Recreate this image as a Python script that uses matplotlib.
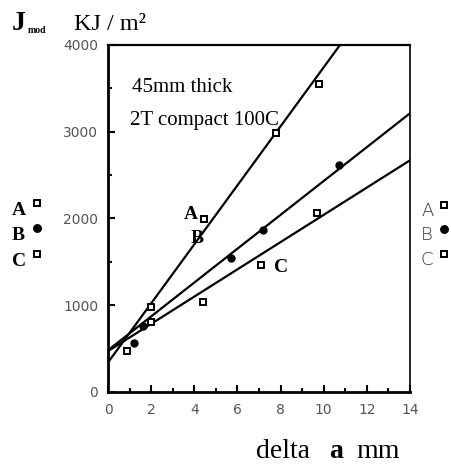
import matplotlib
matplotlib.use("Agg")
import matplotlib.pyplot as plt
import numpy as np

# data
a_x = [0.9, 2.0, 4.45, 7.8, 9.8]
a_y = [470, 980, 1995, 2985, 3550]
b_x = [1.2, 1.6, 5.7, 7.2, 10.7]
b_y = [565, 760, 1545, 1870, 2620]
c_x = [2.0, 4.4, 7.1, 9.7]
c_y = [810, 1040, 1460, 2060]

# fitted lines: intercept, slope
line_names = ["A", "B", "C"]
line_b0 = [340, 480, 470]
line_b1 = [340, 195, 157]

serif = "Liberation Serif"

fig = plt.figure(figsize=(4.52, 4.66), dpi=100)
ax = fig.add_axes([0.239, 0.159, 0.668, 0.745])

xs = np.array([0, 14])
for b0, b1 in zip(line_b0, line_b1):
    ax.plot(xs, b0 + b1 * xs, color="black", lw=1.6, zorder=2)

ax.plot(a_x, a_y, "s", ms=5, mfc="white", mec="black", mew=1.4, zorder=3)
ax.plot(b_x, b_y, "o", ms=5, color="black", zorder=3)
ax.plot(c_x, c_y, "s", ms=5, mfc="white", mec="black", mew=1.4, zorder=3)

ax.set_xlim(0, 14)
ax.set_ylim(0, 4000)
ax.set_xticks(range(0, 15, 2))
ax.set_xticks(range(0, 15, 1), minor=True)
ax.set_yticks(range(0, 4001, 1000))
ax.set_yticks(range(0, 4001, 500), minor=True)
ax.tick_params(which="both", direction="in", width=1.5, colors="black")
ax.tick_params(which="major", length=5)
ax.tick_params(which="minor", length=3)
ax.tick_params(axis="x", pad=8)
ax.tick_params(axis="y", pad=7)
for lab in ax.get_xticklabels() + ax.get_yticklabels():
    lab.set_fontfamily("DejaVu Sans")
    lab.set_fontsize(10)
    lab.set_color("#555555")

ax.spines["left"].set_linewidth(2)
ax.spines["bottom"].set_linewidth(2)
ax.spines["top"].set_linewidth(1.6)
ax.spines["right"].set_linewidth(1.2)

ax.text(1.1, 3450, "45mm thick", family=serif, fontsize=15)
ax.text(1.0, 3080, "2T compact 100C", family=serif, fontsize=15)
ax.text(3.5, 1990, "A", family=serif, fontsize=14, fontweight="bold")
ax.text(3.85, 1720, "B", family=serif, fontsize=14, fontweight="bold")
ax.text(7.7, 1380, "C", family=serif, fontsize=14, fontweight="bold")

# title / axis labels in figure coords
fig.text(12 / 452, 1 - 30 / 466, "J", family=serif, fontsize=20, fontweight="bold")
fig.text(28 / 452, 1 - 33 / 466, "mod", family=serif, fontsize=7, fontweight="bold")
fig.text(74 / 452, 1 - 30 / 466, "KJ / m²", family=serif, fontsize=17.5)
fig.text(256 / 452, 1 - 458 / 466, "delta", family=serif, fontsize=20)
fig.text(329 / 452, 1 - 458 / 466, "a", family=serif, fontsize=20, fontweight="bold")
fig.text(356 / 452, 1 - 458 / 466, "mm", family=serif, fontsize=20)

# side keys
left_y = [208, 233, 259]
right_y = [209, 233, 258]
mk = ["s", "o", "s"]
for name, ly, ry, m in zip(line_names, left_y, right_y, mk):
    fig.text(12 / 452, 1 - (ly + 7) / 466, name, family=serif, fontsize=14, fontweight="bold")
    fig.text(421 / 452, 1 - (ry + 7) / 466, name, family="DejaVu Sans", fontsize=13,
             fontweight="light", color="#333333")
    face = "black" if m == "o" else "white"
    fig.lines.append(plt.Line2D([37 / 452], [1 - (ly - 5) / 466], marker=m, ms=5,
                                mfc=face, mec="black", mew=1.4, transform=fig.transFigure))
    fig.lines.append(plt.Line2D([444 / 452], [1 - (ry - 4) / 466], marker=m, ms=5,
                                mfc=face, mec="black", mew=1.4, transform=fig.transFigure))

fig.savefig("out.png", dpi=100)
